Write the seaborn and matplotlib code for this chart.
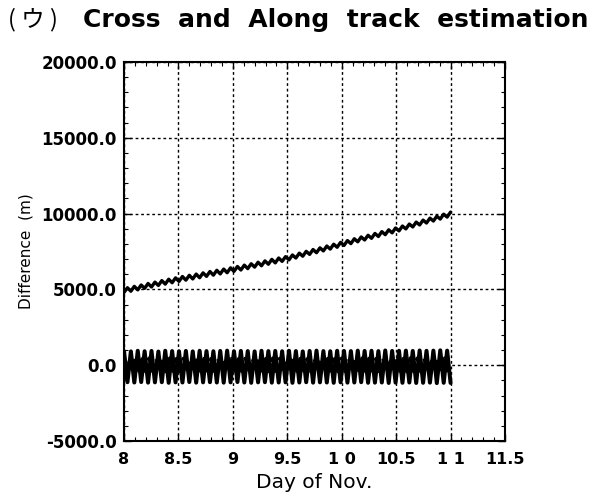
import numpy as np
import pandas as pd
import matplotlib
matplotlib.use("Agg")
import matplotlib.pyplot as plt
from matplotlib.ticker import MultipleLocator, FixedLocator, FixedFormatter
import seaborn as sns

# Along-track difference (m): successive troughs and crests of the orbital wiggle
along_trough = [4800, 4880, 4970, 5070, 5160, 5260, 5350, 5440,
                5530, 5610, 5690, 5770, 5860, 5940, 6020, 6100,
                6190, 6280, 6370, 6470, 6560, 6660, 6750, 6850,
                6950, 7070, 7190, 7310, 7420, 7540, 7660, 7780,
                7900, 8020, 8140, 8260, 8370, 8490, 8610, 8730,
                8860, 8990, 9120, 9250, 9380, 9510, 9640, 9770]
along_peak = [5110, 5200, 5290, 5390, 5480, 5580, 5670, 5760,
              5850, 5930, 6010, 6090, 6180, 6260, 6340, 6420,
              6510, 6600, 6690, 6790, 6880, 6980, 7070, 7160,
              7270, 7390, 7510, 7630, 7740, 7860, 7980, 8100,
              8220, 8340, 8460, 8570, 8690, 8810, 8930, 9050,
              9180, 9310, 9440, 9570, 9700, 9830, 9960, 10100]

# Cross-track difference (m)
cross_peak = [930, 910, 950, 920, 940, 900, 950, 930, 920, 940, 910, 950,
              930, 920, 940, 960, 920, 940, 930, 910, 950, 930, 940, 920,
              950, 930, 910, 940, 960, 930, 920, 950, 940, 930, 960, 940,
              950, 930, 970, 940, 950, 960, 940, 970, 950, 960, 980, 960]
cross_trough = [-1120, -1140, -1110, -1150, -1130, -1120, -1160, -1130,
                -1140, -1110, -1150, -1130, -1120, -1140, -1150, -1130,
                -1110, -1140, -1160, -1130, -1120, -1150, -1140, -1130,
                -1160, -1140, -1120, -1150, -1130, -1140, -1160, -1130,
                -1150, -1140, -1120, -1160, -1150, -1140, -1170, -1150,
                -1160, -1140, -1170, -1160, -1150, -1180, -1160, -1170]

# Radial difference (m)
radial_peak = [440, 460, 430, 470, 450, 440, 480, 450, 460, 430, 470, 450,
               440, 460, 480, 450, 430, 460, 470, 440, 450, 480, 460, 440,
               470, 450, 430, 460, 480, 450, 440, 470, 460, 450, 480, 460,
               440, 470, 490, 460, 450, 480, 470, 460, 490, 470, 480, 500]
radial_trough = [-400, -420, -390, -430, -410, -400, -440, -410, -420, -390,
                 -430, -410, -400, -420, -440, -410, -390, -420, -430, -400,
                 -410, -440, -420, -400, -430, -410, -390, -420, -440, -410,
                 -400, -430, -420, -410, -440, -420, -400, -430, -450, -420,
                 -410, -440, -430, -420, -450, -430, -440, -460]

day_start, day_end = 8.0, 11.0

x_ticks = [8, 8.5, 9, 9.5, 10, 10.5, 11, 11.5]
x_tick_labels = ["8", "8.5", "9", "9.5", "1 0", "10.5", "1 1", "11.5"]
y_ticks = [-5000, 0, 5000, 10000, 15000, 20000]

title_prefix = "( ウ )"
title_text = "Cross  and  Along  track  estimation"
x_label = "Day of Nov."
y_label = "Difference  (m)"


def interleave(first, second):
    vals = np.column_stack([first, second]).ravel()
    days = np.linspace(day_start, day_end, len(vals))
    return pd.DataFrame({"day": days, "diff": vals})


along = interleave(along_trough, along_peak)
cross = interleave(cross_peak, cross_trough)
radial = interleave(radial_trough, radial_peak)
radial["day"] = radial["day"] + 0.008
radial = radial[radial["day"] <= day_end]

sns.set_theme(style="white")
plt.rcParams["font.family"] = ["DejaVu Sans", "Noto Sans CJK JP"]

fig = plt.figure(figsize=(5.91, 5.04), dpi=100)
ax = fig.add_axes([124 / 591, 1 - 441 / 504, 381 / 591, 379 / 504])

sns.lineplot(data=along, x="day", y="diff", ax=ax, color="black",
             linewidth=2.4, estimator=None, sort=False)
sns.lineplot(data=cross, x="day", y="diff", ax=ax, color="black",
             linewidth=2.9, estimator=None, sort=False)
sns.lineplot(data=radial, x="day", y="diff", ax=ax, color="black",
             linewidth=2.2, linestyle=(0, (3, 2)), estimator=None, sort=False)

ax.set_xlim(8, 11.5)
ax.set_ylim(-5000, 20000)

ax.xaxis.set_major_locator(FixedLocator(x_ticks))
ax.xaxis.set_major_formatter(FixedFormatter(x_tick_labels))
ax.xaxis.set_minor_locator(MultipleLocator(0.1))
ax.yaxis.set_major_locator(FixedLocator(y_ticks))
ax.yaxis.set_major_formatter(FixedFormatter([f"{v:.1f}" for v in y_ticks]))
ax.yaxis.set_minor_locator(MultipleLocator(1000))

ax.tick_params(which="both", direction="in", top=True, right=True,
               bottom=True, left=True, color="black")
ax.tick_params(which="major", length=5, width=1.0)
ax.tick_params(which="minor", length=3, width=0.8)
ax.tick_params(axis="x", which="major", pad=8)
ax.tick_params(axis="y", which="major", pad=5)
for lab in ax.get_xticklabels():
    lab.set_fontweight("bold")
    lab.set_fontsize(11.5)
    lab.set_color("black")
for lab in ax.get_yticklabels():
    lab.set_fontweight("bold")
    lab.set_fontsize(12)
    lab.set_color("black")

ax.grid(True, which="major", color="black", linestyle=(0, (2, 2)),
        linewidth=1.0)
ax.set_axisbelow(True)
for s in ax.spines.values():
    s.set_color("black")
    s.set_linewidth(1.5)

ax.set_xlabel(x_label, fontsize=14.5, color="black", labelpad=4)
ax.set_ylabel(y_label, fontsize=11, color="black")
ax.yaxis.set_label_coords(-0.238, 0.5)

fig.text(8 / 591, 1 - 20 / 504, title_prefix, fontsize=17,
         family=["Noto Sans CJK JP"], va="center", ha="left", color="black")
fig.text(83 / 591, 1 - 20 / 504, title_text, fontsize=18,
         fontweight="bold", va="center", ha="left", color="black")

fig.savefig("out.png", dpi=100, facecolor="white")
